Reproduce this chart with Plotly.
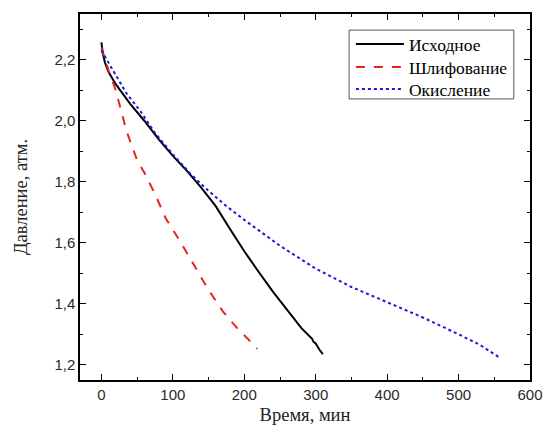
import plotly.graph_objects as go

# Исходное
x_base = [0, 2, 5, 10, 20, 40, 60, 80, 100, 120, 140, 160, 180, 200, 220, 240, 260, 280, 295, 297, 300, 305, 310]
y_base = [2.257, 2.22, 2.19, 2.16, 2.12, 2.056, 2.00, 1.94, 1.885, 1.835, 1.78, 1.72, 1.645, 1.572, 1.505, 1.44, 1.38, 1.32, 1.285, 1.275, 1.27, 1.25, 1.235]

# Шлифование
x_grind = [0, 5, 10, 20, 35, 50, 60, 75, 90, 110, 130, 150, 170, 190, 205, 218]
y_grind = [2.24, 2.2, 2.165, 2.10, 1.967, 1.87, 1.83, 1.76, 1.68, 1.605, 1.525, 1.445, 1.375, 1.32, 1.285, 1.252]

# Окисление
x_ox = [0, 5, 10, 20, 35, 55, 75, 100, 125, 150, 175, 200, 250, 300, 350, 400, 450, 500, 530, 557]
y_ox = [2.23, 2.21, 2.19, 2.15, 2.09, 2.03, 1.96, 1.89, 1.825, 1.77, 1.72, 1.675, 1.59, 1.515, 1.455, 1.405, 1.355, 1.30, 1.265, 1.224]

names = ["Исходное", "Шлифование", "Окисление"]

fig = go.Figure()
fig.add_trace(go.Scatter(x=x_base, y=y_base, mode="lines", name=names[0], legend="legend",
                         line=dict(color="black", width=2)))
fig.add_trace(go.Scatter(x=x_grind, y=y_grind, mode="lines", name=names[1], legend="legend2",
                         line=dict(color="#e8231e", width=2, dash="dash")))
fig.add_trace(go.Scatter(x=x_ox, y=y_ox, mode="lines", name=names[2], legend="legend3",
                         line=dict(color="#1a1adc", width=2, dash="dot")))

axis_common = dict(
    automargin=False,
    showline=True, linecolor="black", linewidth=1.5, mirror="allticks",
    ticks="inside", ticklen=6, tickcolor="black", tickwidth=1.2,
    showgrid=False, zeroline=False, ticklabeloverflow="allow",
    tickfont=dict(family="Liberation Sans, Arial", size=15, color="#2a2a2a"),
)

leg_font = dict(family="Liberation Serif, Times New Roman", size=17.5, color="black")
title_font = dict(family="Liberation Serif, Times New Roman", size=18.5, color="#222")


def leg(yc):
    return dict(x=0.602, y=yc, xanchor="left", yanchor="middle",
                borderwidth=0, bgcolor="rgba(0,0,0,0)", itemwidth=48,
                font=leg_font)


fig.update_layout(
    width=543, height=430,
    margin=dict(l=80, r=13, t=14, b=50),
    plot_bgcolor="white", paper_bgcolor="white",
    separators=",.",
    showlegend=True,
    legend=leg(0.918),
    legend2=leg(0.855),
    legend3=leg(0.795),
    shapes=[dict(type="rect", xref="paper", yref="paper",
                 x0=0.598, x1=0.964, y0=0.768, y1=0.956,
                 line=dict(color="#555", width=1), fillcolor="rgba(0,0,0,0)")],
    xaxis=dict(range=[-30, 600], tick0=0, dtick=100,
               minor=dict(ticks="inside", dtick=50, ticklen=3, tickcolor="black"),
               title=dict(text="Время, мин", standoff=6, font=title_font),
               **axis_common),
    yaxis=dict(range=[1.15, 2.35], tick0=1.2, dtick=0.2, tickformat=".1f",
               minor=dict(ticks="inside", dtick=0.1, ticklen=3, tickcolor="black"),
               title=dict(text="Давление, атм.", standoff=22, font=title_font),
               **axis_common),
)

fig.write_html("out.html", config={"displayModeBar": False},
               post_script="document.body.style.margin='0';document.body.style.overflow='hidden';")
